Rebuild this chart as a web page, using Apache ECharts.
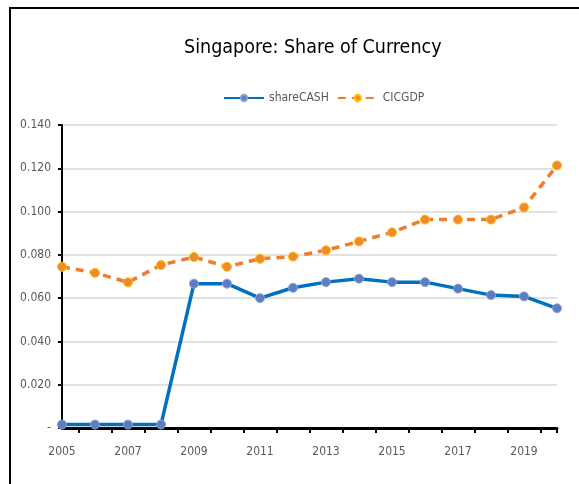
<!DOCTYPE html>
<html>
<head>
<meta charset="utf-8">
<script src="https://cdn.jsdelivr.net/npm/echarts@6/dist/echarts.min.js"></script>
<style>
  html, body { margin: 0; padding: 0; background: #fff; }
  #chart { width: 579px; height: 484px; }
</style>
</head>
<body>
<div id="chart"></div>
<script>
  const years = ["2005", "2006", "2007", "2008", "2009", "2010", "2011", "2012",
    "2013", "2014", "2015", "2016", "2017", "2018", "2019", "2020"];
  const shareCASH = [0.0016, 0.0016, 0.0016, 0.0016, 0.0667, 0.0667, 0.060, 0.0648,
    0.0674, 0.0690, 0.0674, 0.0674, 0.0644, 0.0614, 0.0608, 0.0553];
  const cicGDP = [0.0745, 0.0717, 0.0673, 0.0753, 0.0790, 0.0745, 0.0782, 0.0792,
    0.0821, 0.0862, 0.0904, 0.0963, 0.0963, 0.0963, 0.1019, 0.1213];
  const yTicks = [0, 0.02, 0.04, 0.06, 0.08, 0.10, 0.12, 0.14];

  // half-year steps, only used to put x ticks between the years
  const halfSteps = [];
  years.forEach((y, i) => {
    halfSteps.push(y);
    if (i < years.length - 1) halfSteps.push(y + ".5");
  });

  const font = "'Liberation Sans Narrow', 'DejaVu Sans Condensed', sans-serif";
  const labelColor = "#595959";

  const chart = echarts.init(document.getElementById("chart"));

  const option = {
    animation: false,
    backgroundColor: "#fff",
    title: {
      text: "Singapore: Share of Currency",
      left: 179,
      top: 33,
      textStyle: {
        fontFamily: font,
        fontSize: 19.5,
        fontWeight: "normal",
        color: "#000",
      },
    },
    legend: {
      left: 218,
      top: 87,
      itemWidth: 40,
      itemHeight: 8,
      itemGap: 8,
      textStyle: { fontFamily: font, fontSize: 12, color: labelColor },
      data: ["shareCASH", "CICGDP"],
    },
    graphic: [
      {
        type: "rect",
        shape: { x: 10, y: 8, width: 600, height: 500 },
        style: { fill: "none", stroke: "#000", lineWidth: 2 },
        silent: true,
      },
    ],
    grid: {
      left: 62,
      right: 22,
      top: 125,
      bottom: 56,
    },
    xAxis: [
      {
        type: "category",
        data: years,
        boundaryGap: false,
        axisLine: { lineStyle: { color: "#000", width: 3 } },
        axisTick: { show: false },
        axisLabel: {
          interval: 1,
          margin: 18,
          fontFamily: font,
          fontSize: 12,
          color: labelColor,
        },
        splitLine: { show: false },
      },
      {
        type: "category",
        data: halfSteps,
        boundaryGap: false,
        position: "bottom",
        axisLine: { show: false },
        axisTick: {
          interval: idx => idx % 2 === 1 || idx === halfSteps.length - 1,
          length: 5,
          lineStyle: { color: "#000", width: 2 },
        },
        axisLabel: { show: false },
        splitLine: { show: false },
      },
    ],
    yAxis: {
      type: "value",
      min: 0,
      max: 0.14,
      interval: 0.02,
      axisLine: { show: true, lineStyle: { color: "#000", width: 2 } },
      axisTick: { show: true, length: 4, lineStyle: { color: "#000", width: 2 } },
      axisLabel: {
        margin: 11,
        fontFamily: font,
        fontSize: 12,
        color: labelColor,
        formatter: v => {
          const t = yTicks.find(k => Math.abs(k - v) < 1e-9);
          if (t === undefined) return "";
          return t === 0 ? "-" : t.toFixed(3);
        },
      },
      splitLine: { show: true, lineStyle: { color: "#d9d9d9", width: 1.5 } },
    },
    series: [
      {
        name: "shareCASH",
        type: "line",
        data: shareCASH,
        symbol: "circle",
        symbolSize: 9,
        lineStyle: { color: "#0070C0", width: 3.5 },
        itemStyle: { color: "#5B7DC2", borderColor: "#8FA3CF", borderWidth: 1 },
        z: 3,
      },
      {
        name: "CICGDP",
        type: "line",
        data: cicGDP,
        symbol: "circle",
        symbolSize: 9,
        lineStyle: { color: "#ED7D31", width: 3.5, type: [8, 6] },
        itemStyle: { color: "#F08A30", borderColor: "#FFC000", borderWidth: 1 },
        z: 2,
      },
    ],
  };

  chart.setOption(option);
</script>
</body>
</html>
